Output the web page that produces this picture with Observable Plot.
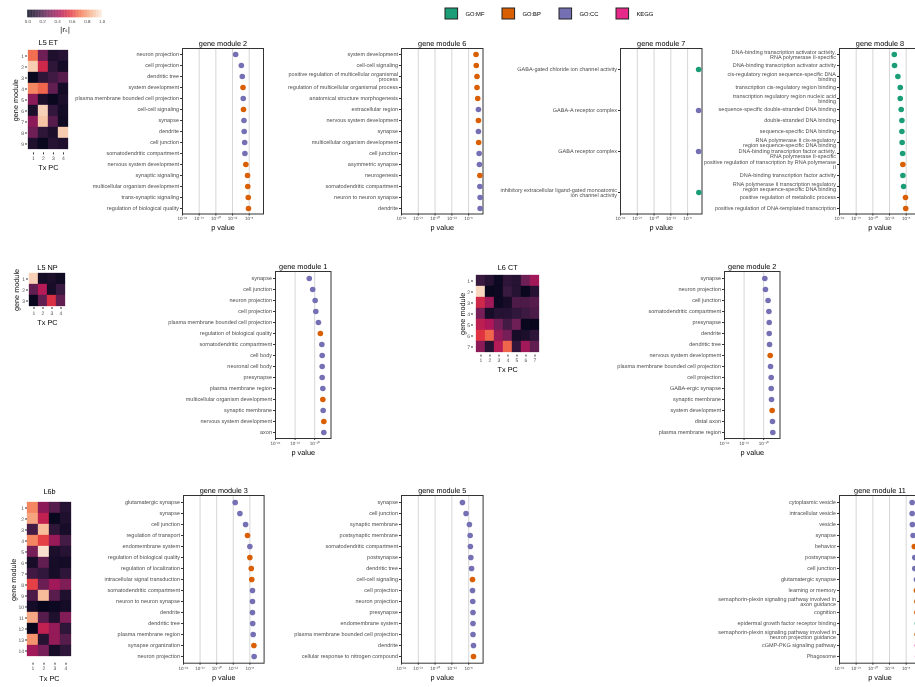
<!DOCTYPE html>
<html>
<head>
<meta charset="utf-8">
<script src="https://cdn.jsdelivr.net/npm/d3@7"></script>
<script src="https://cdn.jsdelivr.net/npm/@observablehq/plot@0.6"></script>
<style>
  body { margin: 0; background: #fff; }
  #fig { position: relative; width: 915px; height: 687px; overflow: hidden; background: #fff;
         font-family: "Liberation Sans", Arial, sans-serif; }
  #fig > svg { position: absolute; will-change: transform; }
  #fig text { text-rendering: geometricPrecision; }
</style>
</head>
<body>
<div id="fig"></div>
<script>
// ---------- annotation sources ----------
const categories = ["GO:MF", "GO:BP", "GO:CC", "KEGG"];
const categoryColors = ["#1B9E77", "#D95F02", "#7570B3", "#E7298A"];

// ---------- heatmap colour ramp (rocket) ----------
const rocketStops = [0, 1/7, 2/7, 3/7, 4/7, 5/7, 6/7, 1];
const rocketColors = ["#03051A", "#35193E", "#701F57", "#AD1759", "#E13342", "#F37651", "#F6B48F", "#FAEBDD"];
const legendTicks = [0, 0.2, 0.4, 0.6, 0.8, 1.0];

// ---------- |r_s| between gene modules (rows) and Tx PCs (columns) ----------
const l5etCorr = [
  [0.70, 0.28, 0.08, 0.10],
  [0.92, 0.52, 0.12, 0.05],
  [0.02, 0.12, 0.17, 0.22],
  [0.75, 0.68, 0.25, 0.05],
  [0.35, 0.07, 0.02, 0.07],
  [0.07, 0.93, 0.13, 0.05],
  [0.35, 0.90, 0.22, 0.04],
  [0.28, 0.12, 0.07, 0.92],
  [0.08, 0.02, 0.10, 0.08]
];
const l5npCorr = [
  [0.93, 0.05, 0.07, 0.04],
  [0.25, 0.45, 0.06, 0.15],
  [0.02, 0.25, 0.55, 0.25]
];
const l6ctCorr = [
  [0.15, 0.10, 0.03, 0.12, 0.10, 0.28, 0.40],
  [0.95, 0.02, 0.03, 0.15, 0.10, 0.02, 0.10],
  [0.52, 0.40, 0.03, 0.06, 0.20, 0.20, 0.22],
  [0.30, 0.06, 0.10, 0.10, 0.13, 0.16, 0.20],
  [0.47, 0.43, 0.30, 0.18, 0.28, 0.02, 0.01],
  [0.57, 0.68, 0.37, 0.30, 0.06, 0.07, 0.12],
  [0.35, 0.10, 0.45, 0.68, 0.13, 0.40, 0.25]
];
const l6bCorr = [
  [0.75, 0.35, 0.22, 0.10],
  [0.82, 0.48, 0.02, 0.08],
  [0.18, 0.88, 0.12, 0.06],
  [0.75, 0.60, 0.38, 0.18],
  [0.30, 0.97, 0.07, 0.10],
  [0.06, 0.25, 0.06, 0.05],
  [0.17, 0.13, 0.06, 0.12],
  [0.60, 0.27, 0.40, 0.32],
  [0.20, 0.88, 0.23, 0.08],
  [0.05, 0.01, 0.03, 0.05],
  [0.83, 0.22, 0.08, 0.33],
  [0.01, 0.48, 0.37, 0.12],
  [0.78, 0.10, 0.37, 0.22],
  [0.40, 0.30, 0.06, 0.12]
];

// ---------- enrichment results: term, log10 p value, source ----------
const l5etM2Terms = ["neuron projection", "cell projection", "dendritic tree", "system development",
  "plasma membrane bounded cell projection", "cell-cell signaling", "synapse", "dendrite", "cell junction",
  "somatodendritic compartment", "nervous system development", "synaptic signaling",
  "multicellular organism development", "trans-synaptic signaling", "regulation of biological quality"];
const l5etM2LogP = [-11.7, -9.3, -8.9, -8.6, -8.5, -8.4, -8.2, -8.1, -7.9, -7.8, -7.4, -6.7, -6.6, -6.4, -6.3];
const l5etM2Source = ["GO:CC", "GO:CC", "GO:CC", "GO:BP", "GO:CC", "GO:BP", "GO:CC", "GO:CC", "GO:CC", "GO:CC",
  "GO:BP", "GO:BP", "GO:BP", "GO:BP", "GO:BP"];

const l5etM6Terms = ["system development", "cell-cell signaling",
  "positive regulation of multicellular organismal\nprocess", "regulation of multicellular organismal process",
  "anatomical structure morphogenesis", "extracellular region", "nervous system development", "synapse",
  "multicellular organism development", "cell junction", "asymmetric synapse", "neurogenesis",
  "somatodendritic compartment", "neuron to neuron synapse", "dendrite"];
const l5etM6LogP = [-2.9, -2.8, -2.5, -2.5, -2.2, -1.9, -1.9, -1.9, -1.8, -1.6, -1.5, -1.3, -1.3, -1.2, -1.2];
const l5etM6Source = ["GO:BP", "GO:BP", "GO:BP", "GO:BP", "GO:BP", "GO:CC", "GO:BP", "GO:CC", "GO:BP", "GO:CC",
  "GO:CC", "GO:BP", "GO:CC", "GO:CC", "GO:CC"];

const l5etM7Terms = ["GABA-gated chloride ion channel activity", "GABA-A receptor complex", "GABA receptor complex",
  "inhibitory extracellular ligand-gated monoatomic\nion channel activity"];
const l5etM7LogP = [-1.4, -1.4, -1.4, -1.3];
const l5etM7Source = ["GO:MF", "GO:CC", "GO:CC", "GO:MF"];

const l5etM8Terms = ["DNA-binding transcription activator activity,\nRNA polymerase II-specific",
  "DNA-binding transcription activator activity", "cis-regulatory region sequence-specific DNA\nbinding",
  "transcription cis-regulatory region binding", "transcription regulatory region nucleic acid\nbinding",
  "sequence-specific double-stranded DNA binding", "double-stranded DNA binding", "sequence-specific DNA binding",
  "RNA polymerase II cis-regulatory\nregion sequence-specific DNA binding",
  "DNA-binding transcription factor activity,\nRNA polymerase II-specific",
  "positive regulation of transcription by RNA polymerase\nII", "DNA-binding transcription factor activity",
  "RNA polymerase II transcription regulatory\nregion sequence-specific DNA binding",
  "positive regulation of metabolic process", "positive regulation of DNA-templated transcription"];
const l5etM8LogP = [-11.0, -10.9, -9.5, -8.5, -8.5, -8.1, -7.8, -7.8, -7.7, -7.5, -7.4, -7.4, -7.1, -6.3, -6.2];
const l5etM8Source = ["GO:MF", "GO:MF", "GO:MF", "GO:MF", "GO:MF", "GO:MF", "GO:MF", "GO:MF", "GO:MF", "GO:MF",
  "GO:BP", "GO:MF", "GO:MF", "GO:BP", "GO:BP"];

const l5npM1Terms = ["synapse", "cell junction", "neuron projection", "cell projection",
  "plasma membrane bounded cell projection", "regulation of biological quality", "somatodendritic compartment",
  "cell body", "neuronal cell body", "presynapse", "plasma membrane region", "multicellular organism development",
  "synaptic membrane", "nervous system development", "axon"];
const l5npM1LogP = [-13.3, -11.2, -9.7, -9.3, -7.7, -6.5, -5.6, -5.4, -5.4, -5.4, -5.0, -5.0, -4.8, -4.4, -4.4];
const l5npM1Source = ["GO:CC", "GO:CC", "GO:CC", "GO:CC", "GO:CC", "GO:BP", "GO:CC", "GO:CC", "GO:CC", "GO:CC",
  "GO:CC", "GO:BP", "GO:CC", "GO:BP", "GO:CC"];

const l6ctM2Terms = ["synapse", "neuron projection", "cell junction", "somatodendritic compartment", "presynapse",
  "dendrite", "dendritic tree", "nervous system development", "plasma membrane bounded cell projection",
  "cell projection", "GABA-ergic synapse", "synaptic membrane", "system development", "distal axon",
  "plasma membrane region"];
const l6ctM2LogP = [-9.3, -8.9, -7.3, -6.8, -6.6, -6.6, -6.4, -6.0, -5.8, -5.4, -5.4, -5.2, -4.8, -4.6, -4.4];
const l6ctM2Source = ["GO:CC", "GO:CC", "GO:CC", "GO:CC", "GO:CC", "GO:CC", "GO:CC", "GO:BP", "GO:CC", "GO:CC",
  "GO:CC", "GO:CC", "GO:BP", "GO:CC", "GO:CC"];

const l6bM3Terms = ["glutamatergic synapse", "synapse", "cell junction", "regulation of transport",
  "endomembrane system", "regulation of biological quality", "regulation of localization",
  "intracellular signal transduction", "somatodendritic compartment", "neuron to neuron synapse", "dendrite",
  "dendritic tree", "plasma membrane region", "synapse organization", "neuron projection"];
const l6bM3LogP = [-12.2, -10.2, -7.8, -7.0, -6.0, -6.0, -5.4, -5.2, -4.9, -4.9, -4.9, -4.8, -4.6, -4.3, -4.2];
const l6bM3Source = ["GO:CC", "GO:CC", "GO:CC", "GO:BP", "GO:CC", "GO:BP", "GO:BP", "GO:BP", "GO:CC", "GO:CC",
  "GO:CC", "GO:CC", "GO:CC", "GO:BP", "GO:CC"];

const l6bM5Terms = ["synapse", "cell junction", "synaptic membrane", "postsynaptic membrane",
  "somatodendritic compartment", "postsynapse", "dendritic tree", "cell-cell signaling", "cell projection",
  "neuron projection", "presynapse", "endomembrane system", "plasma membrane bounded cell projection", "dendrite",
  "cellular response to nitrogen compound"];
const l6bM5LogP = [-8.6, -7.1, -5.7, -5.4, -5.3, -5.1, -4.8, -4.4, -4.4, -4.3, -4.2, -4.2, -4.2, -4.0, -4.0];
const l6bM5Source = ["GO:CC", "GO:CC", "GO:CC", "GO:CC", "GO:CC", "GO:CC", "GO:CC", "GO:BP", "GO:CC", "GO:CC",
  "GO:CC", "GO:CC", "GO:CC", "GO:CC", "GO:BP"];

const l6bM11Terms = ["cytoplasmic vesicle", "intracellular vesicle", "vesicle", "synapse", "behavior", "postsynapse",
  "cell junction", "glutamatergic synapse", "learning or memory",
  "semaphorin-plexin signaling pathway involved in\naxon guidance", "cognition",
  "epidermal growth factor receptor binding",
  "semaphorin-plexin signaling pathway involved in\nneuron projection guidance", "cGMP-PKG signaling pathway",
  "Phagosome"];
const l6bM11LogP = [-3.5, -3.5, -3.4, -3.1, -2.6, -2.4, -2.4, -1.7, -1.7, -1.5, -1.5, -1.3, -1.4, -1.3, -1.2];
const l6bM11Source = ["GO:CC", "GO:CC", "GO:CC", "GO:CC", "GO:BP", "GO:CC", "GO:CC", "GO:CC", "GO:BP", "GO:BP",
  "GO:BP", "GO:MF", "GO:BP", "KEGG", "KEGG"];

const pTicksWide = [-34, -27, -20, -13, -6];
const pTicksNarrow = [-34, -22, -10];

// ---------- helpers ----------
const FONT = "'Liberation Sans', Arial, sans-serif";
const TICK_TEXT = "#4d4d4d";
const TITLE_TEXT = "#000000";
const fig = document.getElementById("fig");
const supMap = {"-": "\u207B", "0": "\u2070", "1": "\u00B9", "2": "\u00B2", "3": "\u00B3", "4": "\u2074",
  "5": "\u2075", "6": "\u2076", "7": "\u2077", "8": "\u2078", "9": "\u2079"};
const pow10 = v => "10" + String(v).split("").map(c => supMap[c]).join("");

function place(svg, left, top) {
  svg.style.left = left + "px";
  svg.style.top = top + "px";
  fig.appendChild(svg);
}
const baseStyle = {background: "transparent", fontFamily: FONT, overflow: "visible", maxWidth: "none"};

// dot panel: frame at (left, top) with size w x h in page pixels
function dotPanel(title, terms, logp, source, ticks, left, top, w, h) {
  const ML = 240, MR = 10, MT = 16, MB = 26;
  const rows = terms.map((t, i) => ({term: t, logp: logp[i], source: source[i]}));
  const svg = Plot.plot({
    width: ML + w + MR, height: MT + h + MB,
    marginLeft: ML, marginRight: MR, marginTop: MT, marginBottom: MB,
    style: baseStyle,
    x: {domain: [-34, 0]},
    y: {type: "point", domain: terms, padding: 0.5},
    color: {domain: categories, range: categoryColors},
    marks: [
      Plot.gridX(ticks, {stroke: "#d6d6d6", strokeOpacity: 1, strokeWidth: 1}),
      Plot.frame({stroke: "#333", strokeWidth: 1}),
      Plot.axisX(ticks, {tickSize: 2, tickPadding: 1.2, fontSize: 4.6, tickFormat: pow10,
        fill: TICK_TEXT, stroke: "#333", label: null}),
      Plot.axisY({tickSize: 2, tickPadding: 1.5, fontSize: 5.5, lineHeight: 1.0,
        fill: TICK_TEXT, stroke: "#333", label: null}),
      Plot.dot(rows, {x: "logp", y: "term", fill: "source", r: 2.8}),
      Plot.text([title], {text: d => d, frameAnchor: "top", dy: -5.2, lineAnchor: "middle",
        textAnchor: "middle", fontSize: 7.3, fill: TITLE_TEXT}),
      Plot.text(["p value"], {text: d => d, frameAnchor: "bottom", dy: 14, lineAnchor: "middle",
        textAnchor: "middle", fontSize: 7.3, fill: TITLE_TEXT})
    ]
  });
  place(svg, left - ML, top - MT);
}

// heatmap panel: frame at (left, top) with size w x h in page pixels
function heatPanel(title, corr, left, top, w, h, yTitleOffset) {
  const ML = 30, MR = 6, MT = 16, MB = 24;
  const modules = corr.map((_, i) => String(i + 1));
  const pcs = corr[0].map((_, j) => String(j + 1));
  const cells = corr.flatMap((row, i) => row.map((v, j) => ({module: modules[i], pc: pcs[j], v})));
  const svg = Plot.plot({
    width: ML + w + MR, height: MT + h + MB,
    marginLeft: ML, marginRight: MR, marginTop: MT, marginBottom: MB,
    style: baseStyle,
    x: {type: "band", domain: pcs, padding: 0},
    y: {type: "band", domain: modules, padding: 0},
    color: {type: "linear", domain: rocketStops, range: rocketColors, interpolate: "rgb"},
    marks: [
      Plot.cell(cells, {x: "pc", y: "module", fill: "v", stroke: "v", strokeWidth: 0.3}),
      Plot.axisX({tickSize: 2, tickPadding: 1.5, fontSize: 5, fill: TICK_TEXT, stroke: "#333", label: null}),
      Plot.axisY({tickSize: 2, tickPadding: 1.5, fontSize: 5, fill: TICK_TEXT, stroke: "#333", label: null}),
      Plot.text([title], {text: d => d, frameAnchor: "top", dy: -5, lineAnchor: "middle",
        textAnchor: "middle", fontSize: 7.3, fill: TITLE_TEXT}),
      Plot.text(["Tx PC"], {text: d => d, frameAnchor: "bottom", dy: 15, lineAnchor: "middle",
        textAnchor: "middle", fontSize: 7.3, fill: TITLE_TEXT}),
      Plot.text(["gene module"], {text: d => d, frameAnchor: "left", dx: -yTitleOffset, rotate: -90,
        lineAnchor: "middle", textAnchor: "middle", fontSize: 7.3, fill: TITLE_TEXT})
    ]
  });
  place(svg, left - ML, top - MT);
}

// ---------- colour bar legend ----------
(function () {
  const ML = 27.3, W = 74.4, MT = 9.7, H = 7.6;
  const strips = d3.range(0, 1, 0.01);
  const svg = Plot.plot({
    width: ML + W + 30, height: MT + H + 20,
    marginLeft: ML, marginRight: 30, marginTop: MT, marginBottom: 20,
    style: baseStyle,
    x: {domain: [0, 1]},
    y: {domain: [0, 1], axis: null},
    color: {type: "linear", domain: rocketStops, range: rocketColors, interpolate: "rgb"},
    marks: [
      Plot.rect(strips, {x1: d => d, x2: d => d + 0.0105, y1: 0, y2: 1, fill: d => d + 0.005}),
      Plot.axisX(legendTicks, {tickSize: 0, tickPadding: 2, fontSize: 4.5, tickFormat: d3.format(".1f"),
        fill: TICK_TEXT, label: null}),
      Plot.text(["|r\u209B|"], {text: d => d, frameAnchor: "bottom", dy: 11.5, lineAnchor: "middle",
        textAnchor: "middle", fontSize: 7, fill: TITLE_TEXT, fontFamily: "'DejaVu Sans', sans-serif"})
    ]
  });
  place(svg, 0, 0);
})();

// ---------- source legend ----------
(function () {
  const step = 57.7;
  const svg = Plot.plot({
    width: 300, height: 27,
    marginLeft: 0, marginRight: 0, marginTop: 8, marginBottom: 8,
    style: baseStyle,
    x: {type: "band", domain: categories, range: [44, 44 + 4 * step], padding: 0, axis: null},
    color: {domain: categories, range: categoryColors},
    marks: [
      Plot.cell(categories, {x: d => d, fill: d => d, stroke: "#222", strokeWidth: 1,
        insetRight: step - 13.3}),
      Plot.text(categories, {x: d => d, text: d => d, dx: 20.3 - step / 2, textAnchor: "start",
        frameAnchor: "middle", fontSize: 5.8, fill: TITLE_TEXT})
    ]
  });
  place(svg, 400, 0);
})();

// ---------- heatmaps ----------
heatPanel("L5 ET", l5etCorr, 27.3, 47.3, 41.7, 105.4, 12);
heatPanel("L5 NP", l5npCorr, 27.7, 271.7, 38, 35, 12);
heatPanel("L6 CT", l6ctCorr, 473.3, 271.7, 68.4, 82.6, 10.5);
heatPanel("L6b", l6bCorr, 26.7, 496, 44, 166.7, 13.7);

// ---------- enrichment panels ----------
dotPanel("gene module 2", l5etM2Terms, l5etM2LogP, l5etM2Source, pTicksWide, 182, 47.7, 81, 165.5);
dotPanel("gene module 6", l5etM6Terms, l5etM6LogP, l5etM6Source, pTicksWide, 401, 47.7, 81.5, 165.5);
dotPanel("gene module 7", l5etM7Terms, l5etM7LogP, l5etM7Source, pTicksWide, 620, 47.7, 81.5, 165.5);
dotPanel("gene module 8", l5etM8Terms, l5etM8LogP, l5etM8Source, pTicksWide, 839.3, 47.7, 81, 165.5);

dotPanel("gene module 1", l5npM1Terms, l5npM1LogP, l5npM1Source, pTicksNarrow, 274.7, 270.7, 55.5, 167);
dotPanel("gene module 2", l6ctM2Terms, l6ctM2LogP, l6ctM2Source, pTicksNarrow, 724, 270.7, 55.5, 167);

dotPanel("gene module 3", l6bM3Terms, l6bM3LogP, l6bM3Source, pTicksWide, 182.7, 495, 80.6, 167.7);
dotPanel("gene module 5", l6bM5Terms, l6bM5LogP, l6bM5Source, pTicksWide, 400.7, 495, 81.6, 167.7);
dotPanel("gene module 11", l6bM11Terms, l6bM11LogP, l6bM11Source, pTicksWide, 839, 495, 81, 167.7);
</script>
</body>
</html>
